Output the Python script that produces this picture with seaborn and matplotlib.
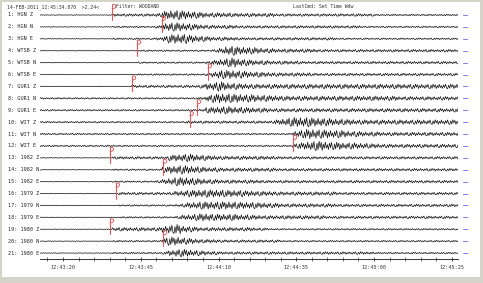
import numpy as np
import pandas as pd
import matplotlib
matplotlib.use("Agg")
import matplotlib.pyplot as plt
import matplotlib.transforms as mtransforms
from matplotlib.patches import Rectangle
import seaborn as sns

# ---------------- data ----------------
trace_labels = ["1: HGN Z", "2: HGN N", "3: HGN E", "4: WTSB Z", "5: WTSB N",
                "6: WTSB E", "7: GUR1 Z", "8: GUR1 N", "9: GUR1 E", "10: WIT Z",
                "11: WIT N", "12: WIT E", "13: 1982 Z", "14: 1982 N", "15: 1982 E",
                "16: 1979 Z", "17: 1979 N", "18: 1979 E", "19: 1980 Z", "20: 1980 N",
                "21: 1980 E"]

# envelope amplitude level (0-9) per 2-s bin, starting at 12:43:12
env_start_sec = 12.0
env_bin_sec = 2.0
envelopes = [
    "0000000000 0022222223 7998765444 4333333322 2222222222 2222111111 11111111",
    "0000000000 0011111112 7887654333 3322222222 2222222222 2211111111 11111111",
    "0000000000 0011111112 5899765433 3322222222 2222222211 1111111111 11111111",
    "0000000000 0000001111 1111111124 8977654433 3333322222 2222222222 22222222",
    "0000000000 0000001111 1111111246 8976544333 3322222222 2222222222 22222222",
    "0000000000 0000001111 1111111258 8876554433 3333222222 2222222222 22222222",
    "0000000000 0000022222 2222223689 7655444444 4444444444 4444444444 44444444",
    "1111111111 1111111111 1111112689 9887766554 4444444444 4444444433 33333333",
    "1111111111 1111111111 1111112567 7665544333 3333333333 3333333333 33333333",
    "1111111111 1111111111 1111222222 2222222246 8999887665 5444444444 44444444",
    "1111111111 1111111111 1111111111 1111111111 1579988776 5544433333 33333333",
    "1111111111 1111111111 1111111111 1111111111 1468998776 6554433333 33333333",
    "0000000000 0022222222 2567765443 3333333322 2222222222 2222222222 22222222",
    "0000000000 0011111111 5788765443 3333333322 2222222222 2222222222 22222222",
    "0000000000 0011111112 4688765443 3333332222 2222222222 2222222222 22222222",
    "0000000000 0002222222 2245677777 6665544433 3333333322 2222222222 22222222",
    "0000000000 0001111111 1123567777 7766655443 3333333322 2222222222 22222222",
    "0000000000 0001111111 1124567766 6655443333 3333332222 2222222222 22222222",
    "0000000000 0033333333 6896543333 3333322111 1111111111 1111111111 11111111",
    "0000000000 0011111111 6886543332 2222222221 1111111111 1111111111 11111111",
    "0000000000 0011111111 2577654332 2222222222 2222222222 2222111111 11111111",
]

# phase picks: trace number and time (seconds after 12:43:00)
pick_rows = [1, 2, 4, 6, 7, 9, 10, 12, 13, 14, 16, 19, 20]
pick_secs = [35.8, 51.8, 43.8, 66.6, 42.2, 63.1, 60.8, 94.0, 35.1, 52.2, 37.0, 35.1, 52.2]

tick_secs = [20, 45, 70, 95, 120, 145]
tick_labels = ["12:43:20", "12:43:45", "12:44:10", "12:44:35", "12:45:00", "12:45:25"]

header_left = "14-FEB-2011_12:45:34.070  >2.24<"
header_filter = "Filter: WOODAND"
header_cmd = "LastCmd: Set Time Wdw"

# ---------------- build long table ----------------
# drawing glyph used to render an envelope as a wiggle (style, not data)
carrier = [1.0, -0.55, 0.8, -1.0, 0.35, -0.75, 0.95, -0.4, 0.6, -0.9, 0.5,
           -0.3, 0.85, -0.65, 0.45, -0.95, 0.7]
pts_per_bin = 6
recs = []
for i, s in enumerate(envelopes):
    digits = s.replace(" ", "")
    n = 0
    for k, ch in enumerate(digits):
        a = 0.025 + 0.042 * int(ch)
        for j in range(pts_per_bin):
            c = carrier[(n + 5 * i) % len(carrier)]
            n += 1
            t = env_start_sec + env_bin_sec * k + j * env_bin_sec / pts_per_bin
            recs.append((t, (i + 1) + c * a, trace_labels[i]))
df = pd.DataFrame(recs, columns=["t", "y", "trace"])

# ---------------- figure ----------------
sns.set_theme(style="white")
plt.rcParams["font.family"] = ["DejaVu Sans Mono"]

W, H = 483, 283
fig = plt.figure(figsize=(W / 100, H / 100), dpi=100)
fig.patch.set_facecolor("white")
# window frame
fig.patches.append(Rectangle((0, 0), 1, 1, transform=fig.transFigure,
                             facecolor="#d6d3c9", edgecolor="none", zorder=-10))
fig.patches.append(Rectangle((1.5 / W, 6.5 / H), (W - 4.5) / W, (H - 8) / H,
                             transform=fig.transFigure, facecolor="white",
                             edgecolor="none", zorder=-9))

ax = fig.add_axes([40 / W, 24 / H, 418 / W, 254 / H])
ax.set_facecolor("none")

sns.lineplot(data=df, x="t", y="y", units="trace", estimator=None, sort=False,
             color="#111111", linewidth=0.5, legend=False, ax=ax)

ax.set_xlim(12.6, 147.0)
ax.set_ylim(21.5, 0.16)
ax.set_xlabel("")
ax.set_ylabel("")
ax.set_yticks([])
for sp in ["top", "left", "right"]:
    ax.spines[sp].set_visible(False)
ax.spines["bottom"].set_color("#333333")
ax.spines["bottom"].set_linewidth(0.7)

ax.set_xticks(tick_secs)
ax.set_xticklabels(tick_labels, fontsize=3.7, color="#333333")
ax.set_xticks(np.arange(15, 147, 5), minor=True)
ax.tick_params(axis="x", which="major", direction="inout", length=3.5, width=0.6,
               color="#333333", pad=2.5, bottom=True)
ax.tick_params(axis="x", which="minor", direction="inout", length=2.5, width=0.5,
               color="#333333", bottom=True)

# trace labels and right-hand markers
blend = mtransforms.blended_transform_factory(fig.transFigure, ax.transData)
for i, lab in enumerate(trace_labels):
    ax.text(8 / W, i + 1, lab, transform=blend, fontsize=3.7, color="#222222",
            va="center", ha="left")
    ax.plot([148.6, 149.9], [i + 1, i + 1], color="#7f7fe8", linewidth=0.7,
            clip_on=False)

# picks: red stem with a small "P" shaped flag
px_s = 418 / 134.4      # pixels per second
px_r = 254 / 21.34      # pixels per row
flag_dx = np.array([0.0, 1.8, 3.4, 3.7, 2.8, 1.0, 0.0])
flag_dy = np.array([0.0, -0.6, 0.4, 1.8, 3.2, 3.7, 3.7])
for r, t in zip(pick_rows, pick_secs):
    top = r - 0.85
    ax.plot([t, t], [top, r + 0.42], color="#e05a5a", linewidth=0.8, zorder=5,
            clip_on=False)
    ax.plot(t + flag_dx / px_s, top + flag_dy / px_r, color="#e05a5a",
            linewidth=0.65, zorder=5, clip_on=False)

# header
fig.text(7 / W, 1 - 7 / H, header_left, fontsize=3.5, color="#333333",
         va="center", ha="left")
fig.text(116 / W, 1 - 7 / H, header_filter, fontsize=3.5, color="#333333",
         va="center", ha="left")
fig.text(323 / W, 1 - 7 / H, header_cmd, fontsize=3.5, color="#333333",
         va="center", ha="center")

fig.savefig("out.png", dpi=100)
